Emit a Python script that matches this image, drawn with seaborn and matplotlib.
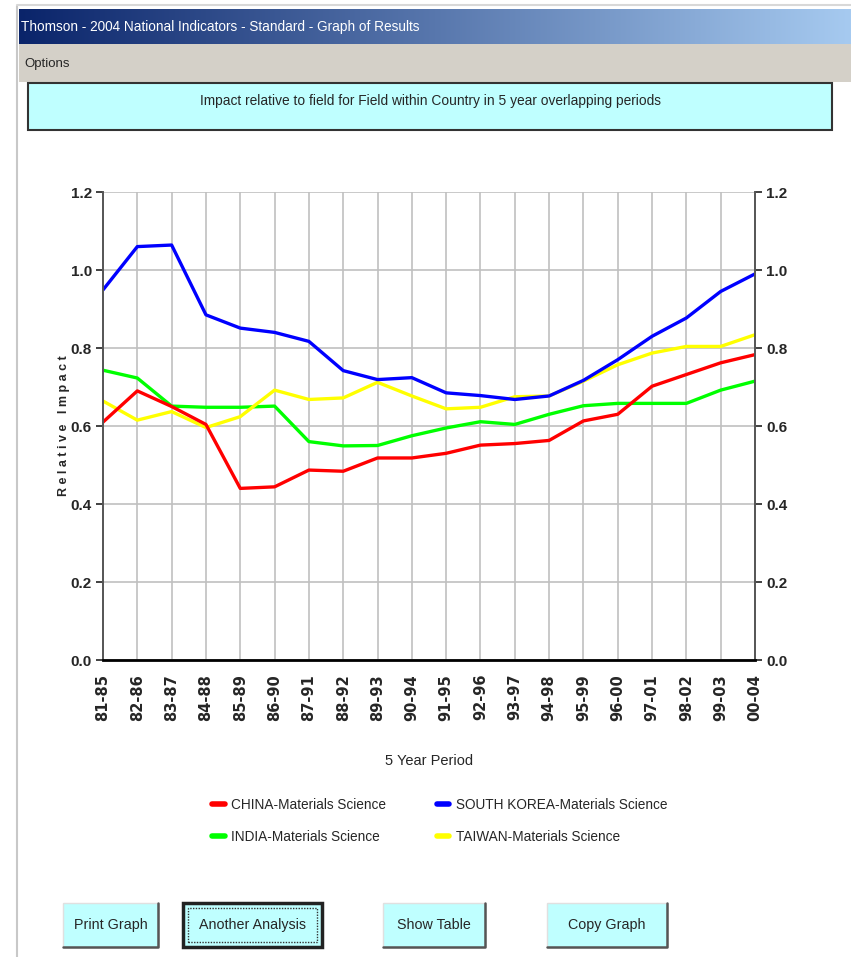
import numpy as np
import pandas as pd
import matplotlib
matplotlib.use("Agg")
import matplotlib.pyplot as plt
from matplotlib.patches import Rectangle
from matplotlib.lines import Line2D
import seaborn as sns

# Data
periods = ["81-85", "82-86", "83-87", "84-88", "85-89", "86-90", "87-91",
           "88-92", "89-93", "90-94", "91-95", "92-96", "93-97", "94-98",
           "95-99", "96-00", "97-01", "98-02", "99-03", "00-04"]
china = [0.61, 0.69, 0.65, 0.604, 0.44, 0.444, 0.487, 0.484, 0.518, 0.518,
         0.53, 0.551, 0.555, 0.563, 0.613, 0.63, 0.702, 0.732, 0.762, 0.783]
south_korea = [0.949, 1.06, 1.064, 0.885, 0.851, 0.84, 0.817, 0.742, 0.719, 0.724,
               0.685, 0.678, 0.668, 0.677, 0.717, 0.77, 0.83, 0.877, 0.945, 0.99]
india = [0.743, 0.723, 0.651, 0.648, 0.648, 0.651, 0.56, 0.549, 0.55, 0.575,
         0.595, 0.611, 0.604, 0.63, 0.652, 0.658, 0.658, 0.658, 0.692, 0.715]
taiwan = [0.664, 0.615, 0.637, 0.596, 0.624, 0.692, 0.668, 0.672, 0.712, 0.677,
          0.644, 0.648, 0.675, 0.677, 0.715, 0.757, 0.787, 0.804, 0.804, 0.834]

series_names = ["CHINA-Materials Science", "SOUTH KOREA-Materials Science",
                "INDIA-Materials Science", "TAIWAN-Materials Science"]
colors = {"CHINA-Materials Science": "#ff0000",
          "SOUTH KOREA-Materials Science": "#0000ff",
          "INDIA-Materials Science": "#00ff00",
          "TAIWAN-Materials Science": "#ffff00"}

df = pd.DataFrame({
    "period": periods * 4,
    "impact": china + south_korea + india + taiwan,
    "series": np.repeat(series_names, len(periods)),
})

sns.set_style("white")
plt.rcParams["font.family"] = ["Liberation Sans", "DejaVu Sans"]

W, H = 851, 957
fig = plt.figure(figsize=(W / 100, H / 100), dpi=100)
fig.patch.set_facecolor("white")


def fx(x):
    return x / W


def fy(y):
    return 1 - y / H


def box(x0, y0, x1, y1, **kw):
    r = Rectangle((fx(x0), fy(y1)), (x1 - x0) / W, (y1 - y0) / H,
                  transform=fig.transFigure, **kw)
    fig.patches.append(r)
    return r


# window frame
fig.add_artist(Line2D([fx(17), fx(17)], [fy(6), fy(957)], color="#c8c8c8", lw=1.5,
                      transform=fig.transFigure))
fig.add_artist(Line2D([fx(17), fx(851)], [fy(5), fy(5)], color="#d8d8d8", lw=1.5,
                      transform=fig.transFigure))

# title bar gradient
tb = fig.add_axes([fx(19), fy(44), (851 - 19) / W, 35 / H])
c0 = np.array([10, 36, 106]) / 255
c1 = np.array([166, 202, 240]) / 255
t = np.linspace(0, 1, 400)
grad = (c0[None, :] * (1 - t[:, None]) + c1[None, :] * t[:, None])[None, :, :]
tb.imshow(grad, aspect="auto", extent=[0, 1, 0, 1])
tb.set_axis_off()
tb.text(0.002, 0.5, "Thomson - 2004 National Indicators - Standard - Graph of Results",
        color="white", fontsize=9.8, va="center", ha="left")

# menu bar
box(19, 44, 851, 82, facecolor="#d4d0c8", edgecolor="none")
fig.text(fx(24), fy(64), "Options", fontsize=9.5, va="center", ha="left")

# chart title box
box(28, 83, 832, 130, facecolor="#bfffff", edgecolor="#333333", lw=1.5)
fig.text(fx(431), fy(101), "Impact relative to field for Field within Country in 5 year overlapping periods",
         fontsize=9.9, va="center", ha="center")

# main plot
ax = fig.add_axes([fx(103), fy(660), (755 - 103) / W, (660 - 192) / H])
sns.lineplot(data=df, x="period", y="impact", hue="series",
             hue_order=["INDIA-Materials Science", "TAIWAN-Materials Science",
                        "CHINA-Materials Science", "SOUTH KOREA-Materials Science"],
             palette=colors, linewidth=2.4, legend=False, ax=ax, sort=False)

ax.set_xlim(0, len(periods) - 1)
ax.set_ylim(0, 1.2)
yt = np.arange(0, 1.21, 0.2)
ax.set_yticks(yt)
ax.set_yticklabels([f"{v:.1f}" for v in yt], fontsize=11, fontweight="bold")
ax.set_xticks(range(len(periods)))
ax.set_xticklabels(periods, rotation=90, fontsize=10.5, fontweight="bold",
                   family="DejaVu Sans")
ax.grid(True, color="#c0c0c0", lw=1.2)
ax.set_axisbelow(True)
ax.tick_params(axis="y", which="both", left=True, right=True, labelleft=True,
               labelright=True, direction="out", length=5, width=1.3,
               color="#333333", pad=3)
ax.tick_params(axis="x", direction="out", length=7, width=1.3, color="#333333", pad=3)
for s in ["left", "right"]:
    ax.spines[s].set_color("#555555")
    ax.spines[s].set_linewidth(1.4)
ax.spines["bottom"].set_color("black")
ax.spines["bottom"].set_linewidth(2)
ax.spines["top"].set_visible(False)

ax.set_ylabel("R e l a t i v e   I m p a c t", fontsize=9, fontweight="bold")
ax.yaxis.set_label_coords(-0.05, 0.5)
ax.set_xlabel("5 Year Period", fontsize=10.5)
ax.xaxis.set_label_coords(0.5, -0.2)

# legend
legend_order = ["CHINA-Materials Science", "INDIA-Materials Science",
                "SOUTH KOREA-Materials Science", "TAIWAN-Materials Science"]
handles = [Line2D([], [], color=colors[n], lw=4) for n in legend_order]
fig.legend(handles, legend_order, loc="upper left", bbox_to_anchor=(fx(200), fy(786)),
           ncol=2, frameon=False, fontsize=9.8, handlelength=0.9,
           handletextpad=0.5, columnspacing=3.7, labelspacing=1.3)

# buttons
buttons = [("Print Graph", 63, 158), ("Another Analysis", 183, 322),
           ("Show Table", 383, 485), ("Copy Graph", 547, 667)]
for label, x0, x1 in buttons:
    y0, y1 = 903, 947
    if label == "Another Analysis":
        box(x0, y0, x1, y1, facecolor="#bfffff", edgecolor="#222222", lw=2.5)
        box(x0 + 5, y0 + 5, x1 - 5, y1 - 5, facecolor="none", edgecolor="#333333",
            lw=1, ls=(0, (1, 1)))
    else:
        box(x0, y0, x1, y1, facecolor="#bfffff", edgecolor="#e0e0e0", lw=1)
        fig.add_artist(Line2D([fx(x0), fx(x1), fx(x1)], [fy(y1), fy(y1), fy(y0)],
                              color="#555555", lw=1.8, transform=fig.transFigure))
    fig.text(fx((x0 + x1) / 2), fy((y0 + y1) / 2), label, fontsize=10.3,
             ha="center", va="center")

fig.savefig("out.png", dpi=100)
